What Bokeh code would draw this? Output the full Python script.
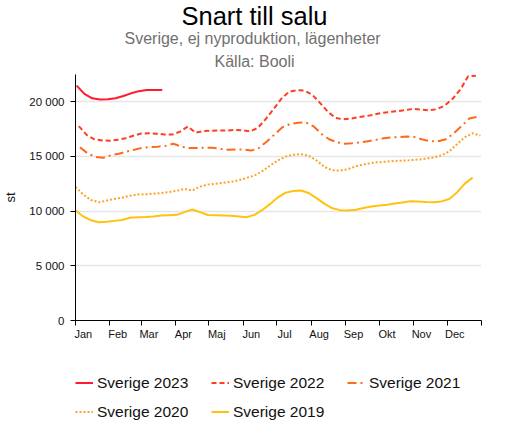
from bokeh.plotting import figure
from bokeh.models import Range1d, FixedTicker, Title, Legend, LegendItem
from bokeh.layouts import column
from bokeh.embed import file_html
from bokeh.resources import INLINE

FONT = "Liberation Sans"

# ---- data ----
months = ["Jan", "Feb", "Mar", "Apr", "Maj", "Jun", "Jul", "Aug", "Sep", "Okt", "Nov", "Dec"]
month_start_days = [0, 31, 59, 90, 120, 151, 181, 212, 243, 273, 304, 334, 365]
y_ticks = [0, 5000, 10000, 15000, 20000]
y_tick_labels = ["0", "5 000", "10 000", "15 000", "20 000"]

names = ["Sverige 2023", "Sverige 2022", "Sverige 2021", "Sverige 2020", "Sverige 2019"]
first_day = [1, 3, 4, 0, 0]  # day-of-year of first weekly observation

v2023 = [21450, 20700, 20300, 20180, 20200, 20300, 20500, 20750, 20950, 21050, 21050, 21050]
v2022 = [17750, 16950, 16550, 16450, 16420, 16500, 16650, 16880, 17080, 17100, 17050, 17000,
         16980, 17250, 17720, 17150, 17300, 17330, 17350, 17350, 17400, 17380, 17270, 17600,
         18400, 19300, 20250, 20900, 21030, 21000, 20600, 19850, 19050, 18500, 18370, 18450,
         18580, 18680, 18820, 18970, 19050, 19130, 19230, 19330, 19250, 19200, 19300, 19630,
         20250, 21100, 22300, 22350]
v2021 = [15830, 15250, 14950, 14870, 15100, 15230, 15430, 15600, 15780, 15830, 15880, 15950,
         16150, 15880, 15760, 15750, 15780, 15780, 15680, 15600, 15630, 15620, 15520, 15750,
         16350, 17000, 17650, 17950, 18070, 18100, 17740, 17050, 16560, 16280, 16150, 16200,
         16260, 16380, 16500, 16640, 16720, 16760, 16800, 16750, 16530, 16380, 16370, 16550,
         17100, 17750, 18450, 18600]
v2020 = [12200, 11500, 11000, 10800, 10950, 11100, 11220, 11400, 11510, 11530, 11580, 11640,
         11720, 11850, 12020, 11870, 12230, 12420, 12480, 12570, 12660, 12820, 13030, 13240,
         13650, 14150, 14620, 14980, 15140, 15190, 15020, 14600, 14020, 13720, 13700, 13820,
         14090, 14250, 14380, 14460, 14520, 14570, 14600, 14640, 14700, 14780, 14900, 15070,
         15450, 16100, 16740, 17100, 16890]
v2019 = [10050, 9500, 9150, 8980, 9020, 9100, 9180, 9380, 9430, 9460, 9500, 9590,
         9620, 9650, 9900, 10140, 9900, 9640, 9620, 9600, 9560, 9500, 9440, 9650,
         10100, 10650, 11250, 11680, 11820, 11870, 11620, 11150, 10650, 10250, 10080, 10050,
         10110, 10280, 10420, 10500, 10570, 10680, 10780, 10890, 10870, 10820, 10800, 10880,
         11100, 11700, 12500, 13050]
values = [v2023, v2022, v2021, v2020, v2019]

colors = ["#ff1a2e", "#ff3d22", "#ff6a1a", "#ffa126", "#ffc20e"]
dashes = ["solid", "5 3", "9 4 2 4", "2 2", "solid"]

# ---- main figure ----
p = figure(width=493, height=350,
           x_range=Range1d(0, 365), y_range=Range1d(0, 22470),
           output_backend="svg", toolbar_location=None, title=None,
           min_border_left=68, min_border_right=12, min_border_top=66, min_border_bottom=30)
p.outline_line_color = None
p.background_fill_color = "white"

for d0, vals, c, dsh in zip(first_day, values, colors, dashes):
    xs = [d0 + 7 * i for i in range(len(vals))]
    p.line(xs, vals, line_color=c, line_width=2, line_dash=dsh)

# titles (later added = further up)
p.add_layout(Title(text="Källa: Booli", align="left", offset=139, text_font=FONT,
                   text_font_size="16px", text_font_style="normal", text_color="#707070",
                   standoff=10), "above")
p.add_layout(Title(text="Sverige, ej nyproduktion, lägenheter", align="left", offset=49,
                   text_font=FONT, text_font_size="16px", text_font_style="normal",
                   text_color="#707070", standoff=-2), "above")
p.add_layout(Title(text="Snart till salu", align="left", offset=106, text_font=FONT,
                   text_font_size="25.5px", text_font_style="normal", text_color="#000000",
                   standoff=-2), "above")

# x axis: tick marks at month starts (minor), labels slightly right (major)
xa = p.xaxis[0]
xa.ticker = FixedTicker(ticks=[d + 7 for d in month_start_days[:-1]],
                        minor_ticks=month_start_days)
xa.major_label_overrides = {d + 7: m for d, m in zip(month_start_days[:-1], months)}
xa.major_tick_line_color = None
xa.major_tick_out = 0
xa.major_tick_in = 0
xa.minor_tick_out = 5
xa.minor_tick_in = 0
xa.minor_tick_line_color = "#000000"
xa.axis_line_color = "#000000"
xa.major_label_text_font = FONT
xa.major_label_text_font_size = "11px"
xa.major_label_text_color = "#111111"
xa.major_label_standoff = 2

ya = p.yaxis[0]
ya.ticker = FixedTicker(ticks=y_ticks)
ya.major_label_overrides = {t: l for t, l in zip(y_ticks, y_tick_labels)}
ya.minor_tick_line_color = None
ya.major_tick_out = 5
ya.major_tick_in = 0
ya.major_tick_line_color = "#000000"
ya.axis_line_color = "#000000"
ya.major_label_text_font = FONT
ya.major_label_text_font_size = "11.5px"
ya.major_label_text_color = "#111111"
ya.major_label_standoff = 6
ya.axis_label = "st"
ya.axis_label_text_font = FONT
ya.axis_label_text_font_size = "13px"
ya.axis_label_text_font_style = "normal"
ya.axis_label_text_color = "#111111"
ya.axis_label_standoff = 8

p.xgrid.grid_line_color = None
p.ygrid.grid_line_color = "#e6e6e6"
p.ygrid.grid_line_width = 1.5

# ---- legend strip (own figure so the legend is not clipped by the main frame) ----
q = figure(width=493, height=73, x_range=Range1d(0, 365), y_range=Range1d(-2e5, -1e5),
           output_backend="svg", toolbar_location=None, title=None,
           x_axis_type=None, y_axis_type=None,
           min_border_left=0, min_border_right=0, min_border_top=0, min_border_bottom=0)
q.outline_line_color = None
q.xgrid.visible = False
q.ygrid.visible = False

items = []
for name, d0, vals, c, dsh in zip(names, first_day, values, colors, dashes):
    xs = [d0 + 7 * i for i in range(len(vals))]
    r = q.line(xs, vals, line_color=c, line_width=2, line_dash=dsh)
    items.append(LegendItem(label=name, renderers=[r]))

legend = Legend(items=items, orientation="horizontal", ncols=3, location=(0, -1),
                label_text_font=FONT, label_text_font_size="15.5px", label_text_color="#111111",
                glyph_width=18, glyph_height=25, label_height=25, label_width=110,
                label_standoff=4, spacing=4, padding=0, margin=0,
                border_line_color=None, background_fill_alpha=0)
q.add_layout(legend, "center")

layout = column(p, q, spacing=0)
open("out.html", "w").write(file_html(layout, INLINE))
